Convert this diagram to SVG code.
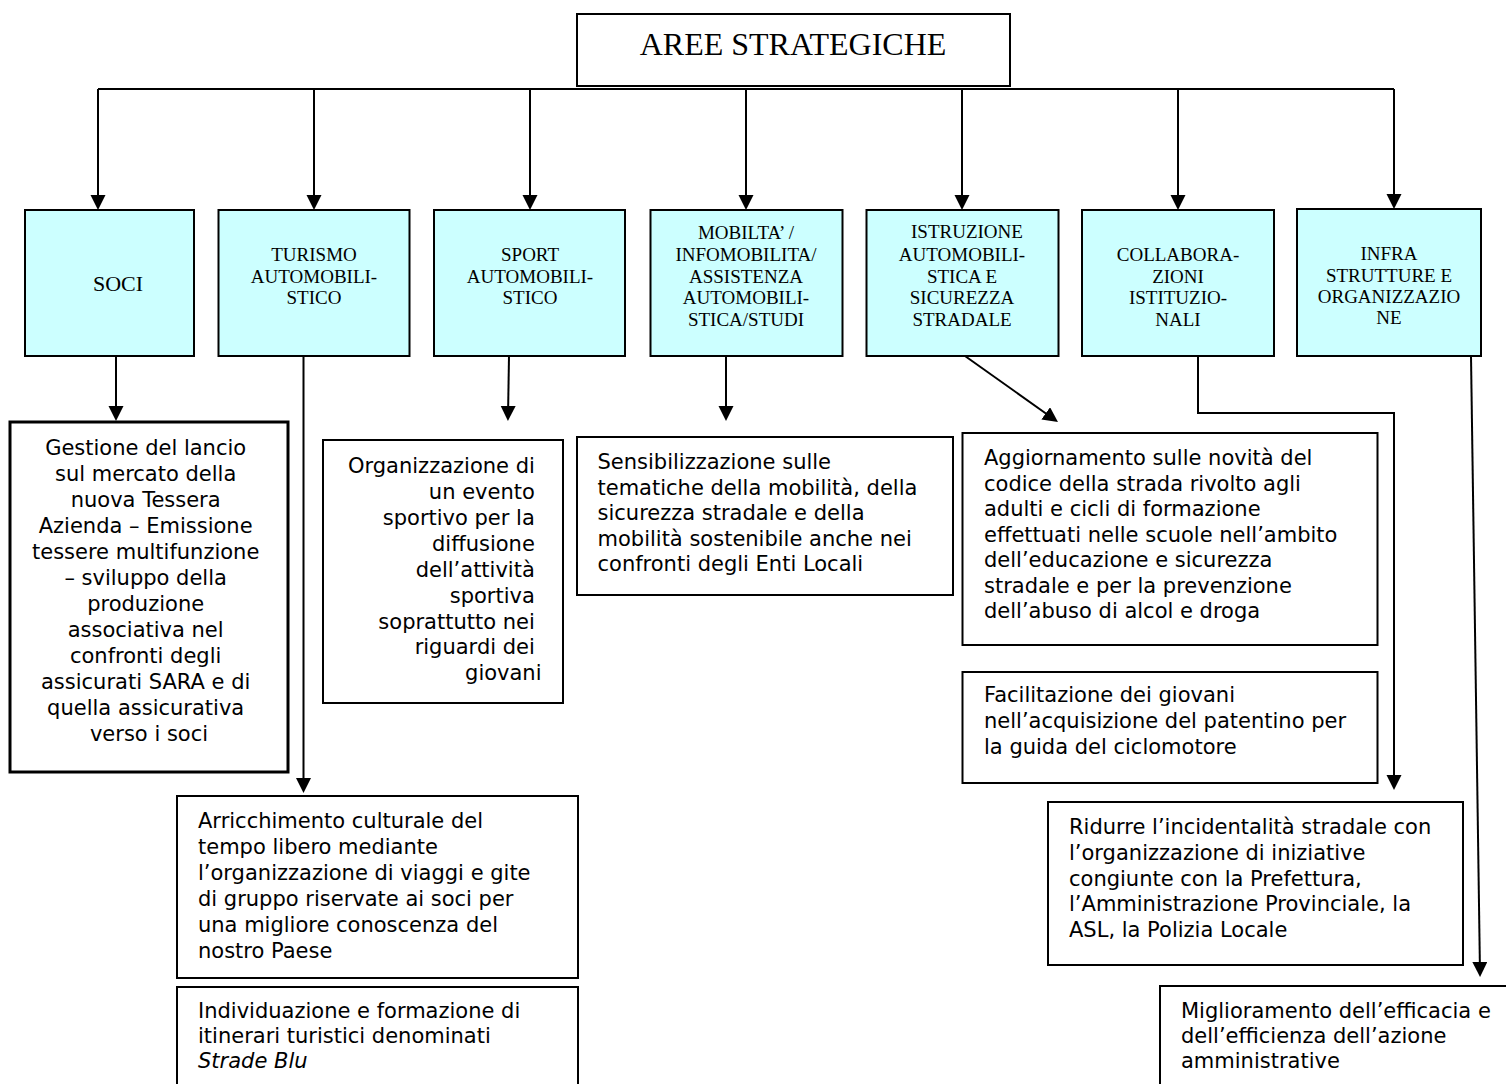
<svg xmlns="http://www.w3.org/2000/svg" width="1506" height="1084" viewBox="0 0 1506 1084">
<style>
.cy{fill:#CCFFFF;stroke:#000;stroke-width:2}
.bx{fill:#fff;stroke:#000;stroke-width:2}
.tt{font-family:"Liberation Serif","Times New Roman",serif;font-size:19px;fill:#000;text-anchor:middle}
.bt{font-family:"DejaVu Sans",Verdana,sans-serif;font-size:21px;fill:#000}
.cn{stroke:#000;stroke-width:2;fill:none}
</style>
<defs>
<marker id="ah" markerWidth="16" markerHeight="16" refX="11" refY="7.5" orient="auto" markerUnits="userSpaceOnUse"><path d="M0,0 L15,7.5 L0,15 z" fill="#000"/></marker>
</defs>
<rect width="1506" height="1084" fill="#fff"/>

<g id="connectors">
<path class="cn" d="M98,89 H1394"/>
<path class="cn" d="M98,89 V206" marker-end="url(#ah)"/>
<path class="cn" d="M314,89 V206" marker-end="url(#ah)"/>
<path class="cn" d="M530,89 V206" marker-end="url(#ah)"/>
<path class="cn" d="M746,89 V206" marker-end="url(#ah)"/>
<path class="cn" d="M962,89 V206" marker-end="url(#ah)"/>
<path class="cn" d="M1178,89 V206" marker-end="url(#ah)"/>
<path class="cn" d="M1394,89 V205" marker-end="url(#ah)"/>
<path class="cn" d="M116,356 V417" marker-end="url(#ah)"/>
<path class="cn" d="M303.5,356 V789" marker-end="url(#ah)"/>
<path class="cn" d="M509,356 L508,417" marker-end="url(#ah)"/>
<path class="cn" d="M726,356 V417" marker-end="url(#ah)"/>
<path class="cn" d="M965,356 L1054.7,419.7" marker-end="url(#ah)"/>
<path class="cn" d="M1198,356 V413 H1394 V786" marker-end="url(#ah)"/>
<path class="cn" d="M1471,356 L1480,973" marker-end="url(#ah)"/>
</g>

<g id="aree">
<rect class="bx" x="577" y="14" width="433" height="72"/>
<text x="793" y="55" style="font-family:'Liberation Serif','Times New Roman',serif;font-size:32px;text-anchor:middle">AREE STRATEGICHE</text>
</g>

<g id="soci">
<rect class="cy" x="25" y="210" width="169" height="146"/>
<text class="tt" x="118" y="291" style="font-size:22px">SOCI</text>
</g>
<g id="turismo">
<rect class="cy" x="218.5" y="210" width="191" height="146"/>
<text class="tt"><tspan x="314" y="261">TURISMO</tspan><tspan x="314" y="283">AUTOMOBILI-</tspan><tspan x="314" y="304">STICO</tspan></text>
</g>
<g id="sport">
<rect class="cy" x="434" y="210" width="191" height="146"/>
<text class="tt"><tspan x="530" y="261">SPORT</tspan><tspan x="530" y="283">AUTOMOBILI-</tspan><tspan x="530" y="304">STICO</tspan></text>
</g>
<g id="mobilita">
<rect class="cy" x="650.5" y="210" width="192" height="146"/>
<text class="tt"><tspan x="746" y="239">MOBILTA’ /</tspan><tspan x="746" y="261">INFOMOBILITA/</tspan><tspan x="746" y="283">ASSISTENZA</tspan><tspan x="746" y="304">AUTOMOBILI-</tspan><tspan x="746" y="326">STICA/STUDI</tspan></text>
</g>
<g id="istruzione">
<rect class="cy" x="866.5" y="210" width="192" height="146"/>
<text class="tt"><tspan x="967" y="238">ISTRUZIONE</tspan><tspan x="962" y="261">AUTOMOBILI-</tspan><tspan x="962" y="283">STICA E</tspan><tspan x="962" y="304">SICUREZZA</tspan><tspan x="962" y="326">STRADALE</tspan></text>
</g>
<g id="collaborazioni">
<rect class="cy" x="1082" y="210" width="192" height="146"/>
<text class="tt"><tspan x="1178" y="261">COLLABORA-</tspan><tspan x="1178" y="283">ZIONI</tspan><tspan x="1178" y="304">ISTITUZIO-</tspan><tspan x="1178" y="326">NALI</tspan></text>
</g>
<g id="infrastrutture">
<rect class="cy" x="1297" y="209" width="184" height="147"/>
<text class="tt"><tspan x="1389" y="260">INFRA</tspan><tspan x="1389" y="282">STRUTTURE  E</tspan><tspan x="1389" y="303">ORGANIZZAZIO</tspan><tspan x="1389" y="324">NE</tspan></text>
</g>

<g id="soci-dettaglio">
<rect x="10" y="422" width="278" height="350" fill="#fff" stroke="#000" stroke-width="3"/>
<text class="bt" text-anchor="middle">
<tspan x="149" y="455">Gestione del lancio</tspan>
<tspan x="149" y="481">sul mercato della</tspan>
<tspan x="149" y="507">nuova Tessera</tspan>
<tspan x="149" y="533">Azienda – Emissione</tspan>
<tspan x="149" y="559">tessere multifunzione</tspan>
<tspan x="149" y="585">– sviluppo della</tspan>
<tspan x="149" y="611">produzione</tspan>
<tspan x="149" y="637">associativa nel</tspan>
<tspan x="149" y="663">confronti degli</tspan>
<tspan x="149" y="689">assicurati SARA e di</tspan>
<tspan x="149" y="715">quella assicurativa</tspan>
<tspan x="149" y="741">verso i soci</tspan>
</text>
</g>

<g id="sport-dettaglio">
<rect class="bx" x="323" y="440" width="240" height="263"/>
<text class="bt" text-anchor="end">
<tspan x="541.5" y="473">Organizzazione di</tspan>
<tspan x="541.5" y="499">un evento</tspan>
<tspan x="541.5" y="525">sportivo per la</tspan>
<tspan x="541.5" y="551">diffusione</tspan>
<tspan x="541.5" y="577">dell’attività</tspan>
<tspan x="541.5" y="603">sportiva</tspan>
<tspan x="541.5" y="629">soprattutto nei</tspan>
<tspan x="541.5" y="654">riguardi dei</tspan>
<tspan x="541.5" y="680">giovani</tspan>
</text>
</g>

<g id="mobilita-dettaglio">
<rect class="bx" x="577" y="437" width="376" height="158"/>
<text class="bt">
<tspan x="597.5" y="469">Sensibilizzazione sulle</tspan>
<tspan x="597.5" y="494.5">tematiche della mobilità, della</tspan>
<tspan x="597.5" y="520">sicurezza stradale e della</tspan>
<tspan x="597.5" y="545.5">mobilità sostenibile anche nei</tspan>
<tspan x="597.5" y="571">confronti degli Enti Locali</tspan>
</text>
</g>

<g id="aggiornamento">
<rect class="bx" x="962.5" y="433" width="415" height="212"/>
<text class="bt">
<tspan x="984" y="465">Aggiornamento sulle novità del</tspan>
<tspan x="984" y="490.5">codice della strada rivolto agli</tspan>
<tspan x="984" y="516">adulti e cicli di formazione</tspan>
<tspan x="984" y="541.5">effettuati nelle scuole nell’ambito</tspan>
<tspan x="984" y="567">dell’educazione e sicurezza</tspan>
<tspan x="984" y="592.5">stradale e per la prevenzione</tspan>
<tspan x="984" y="618">dell’abuso di alcol e droga</tspan>
</text>
</g>

<g id="facilitazione">
<rect class="bx" x="962.5" y="672" width="415" height="111"/>
<text class="bt">
<tspan x="984" y="702">Facilitazione dei giovani</tspan>
<tspan x="984" y="728">nell’acquisizione del patentino per</tspan>
<tspan x="984" y="753.5">la guida del ciclomotore</tspan>
</text>
</g>

<g id="arricchimento">
<rect class="bx" x="177" y="796" width="401" height="182"/>
<text class="bt">
<tspan x="198" y="828">Arricchimento culturale del</tspan>
<tspan x="198" y="854">tempo libero mediante</tspan>
<tspan x="198" y="880">l’organizzazione di viaggi e gite</tspan>
<tspan x="198" y="906">di gruppo riservate ai soci per</tspan>
<tspan x="198" y="932">una migliore conoscenza del</tspan>
<tspan x="198" y="958">nostro Paese</tspan>
</text>
</g>

<g id="individuazione">
<rect class="bx" x="177" y="987" width="401" height="110"/>
<text class="bt">
<tspan x="198" y="1018">Individuazione e formazione di</tspan>
<tspan x="198" y="1043">itinerari turistici denominati</tspan>
<tspan x="198" y="1068" font-style="italic">Strade Blu</tspan>
</text>
</g>

<g id="ridurre">
<rect class="bx" x="1048" y="802" width="415" height="163"/>
<text class="bt">
<tspan x="1069" y="834">Ridurre l’incidentalità stradale con</tspan>
<tspan x="1069" y="860">l’organizzazione di iniziative</tspan>
<tspan x="1069" y="885.5">congiunte con la Prefettura,</tspan>
<tspan x="1069" y="911">l’Amministrazione Provinciale, la</tspan>
<tspan x="1069" y="937">ASL, la Polizia Locale</tspan>
</text>
</g>

<g id="miglioramento">
<rect class="bx" x="1160" y="986" width="360" height="110"/>
<text class="bt">
<tspan x="1181" y="1018">Miglioramento dell’efficacia e</tspan>
<tspan x="1181" y="1043">dell’efficienza dell’azione</tspan>
<tspan x="1181" y="1068">amministrative</tspan>
</text>
</g>
</svg>
